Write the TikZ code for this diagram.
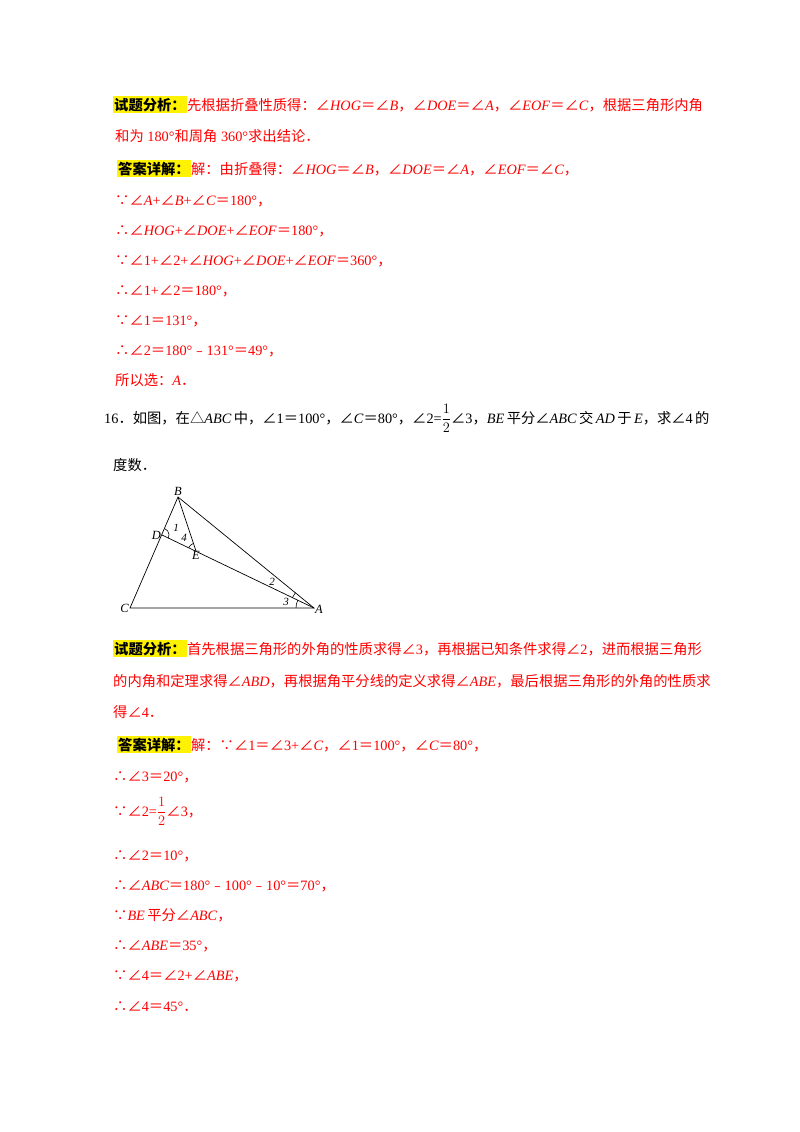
\documentclass[tikz,border=0pt]{standalone}
\usepackage{fontspec}
\setmainfont{Liberation Serif}
\newfontfamily\zhf{Noto Sans CJK SC}
\newcommand\ZH[1]{{\zhf #1}}
\newcommand\I[1]{\textit{#1}}
\newcommand\half{$\displaystyle\frac{1}{2}$}
\usetikzlibrary{angles,quotes}
\definecolor{ansred}{RGB}{255,0,0}
\begin{document}
\begin{tikzpicture}[x=1pt,y=-1pt,
  ln/.style={anchor=base west,inner sep=0pt,font=\fontsize{14.3}{16}\selectfont},
  red/.style={ln,text=ansred},
  hl/.style={ln,fill=yellow,inner xsep=1pt,inner ysep=2pt,font=\fontsize{14.3}{16}\selectfont\bfseries},
  fig/.style={font=\fontsize{12.5}{13}\selectfont\itshape,inner sep=1pt},
  num/.style={font=\fontsize{11}{12}\selectfont\itshape,inner sep=0pt},
  seg/.style={line width=0.7pt}]
\useasboundingbox (0,0) rectangle (800,1132);
\fill[white] (0,0) rectangle (800,1132);
% first problem analysis
\node[hl] (h1) at (113,110) {\ZH{试题分析：}};
\node[red] (l1) at (h1.base east) {\ZH{先根据折叠性质得：∠}\I{HOG}\ZH{＝∠}\I{B}\ZH{，∠}\I{DOE}\ZH{＝∠}\I{A}\ZH{，∠}\I{EOF}\ZH{＝∠}\I{C}\ZH{，根据三角形内角}};
\node[red] (l2) at (115,141) {\ZH{和为} 180°\ZH{和周角} 360°\ZH{求出结论．}};
\node[hl] (h2) at (117,174) {\ZH{答案详解：}};
\node[red] (l3) at (h2.base east) {\ZH{解：由折叠得：∠}\I{HOG}\ZH{＝∠}\I{B}\ZH{，∠}\I{DOE}\ZH{＝∠}\I{A}\ZH{，∠}\I{EOF}\ZH{＝∠}\I{C}\ZH{，}};
\node[red] (l4) at (115,205) {\ZH{∵∠}\I{A}+\ZH{∠}\I{B}+\ZH{∠}\I{C}\ZH{＝}180°\ZH{，}};
\node[red] (l5) at (115,235) {\ZH{∴∠}\I{HOG}+\ZH{∠}\I{DOE}+\ZH{∠}\I{EOF}\ZH{＝}180°\ZH{，}};
\node[red] (l6) at (115,265) {\ZH{∵∠}1+\ZH{∠}2+\ZH{∠}\I{HOG}+\ZH{∠}\I{DOE}+\ZH{∠}\I{EOF}\ZH{＝}360°\ZH{，}};
\node[red] (l7) at (115,295) {\ZH{∴∠}1+\ZH{∠}2\ZH{＝}180°\ZH{，}};
\node[red] (l8) at (115,325) {\ZH{∵∠}1\ZH{＝}131°\ZH{，}};
\node[red] (l9) at (115,355) {\ZH{∴∠}2\ZH{＝}180°\ZH{﹣}131°\ZH{＝}49°\ZH{，}};
\node[red] (l10) at (115,385) {\ZH{所以选：}\I{A}\ZH{．}};
% problem 16
\node[ln] (p1) at (104,423) {16\ZH{．如图，在△}\I{ABC}\,\ZH{中，∠}1\ZH{＝}100°\ZH{，∠}\I{C}\ZH{＝}80°\ZH{，∠}2=\half\ZH{∠}3\ZH{，}\I{BE}\,\ZH{平分∠}\I{ABC}\,\ZH{交}\,\I{AD}\,\ZH{于}\,\I{E}\ZH{，求∠}4\,\ZH{的}};
\node[ln] (p2) at (113,470) {\ZH{度数．}};
% figure
\coordinate (B) at (178,497);
\coordinate (D) at (162,535);
\coordinate (E) at (196,551);
\coordinate (C) at (130,608);
\coordinate (A) at (314,608);
\draw[seg] (C) -- (B) -- (A) -- cycle;
\draw[seg] (D) -- (A);
\draw[seg] (B) -- (E);
\draw[line width=0.6pt] pic[draw,angle radius=7pt] {angle=E--D--B};
\draw[line width=0.6pt] pic[draw,angle radius=8pt] {angle=B--E--D};
\draw[line width=0.6pt] pic[draw,angle radius=24pt] {angle=B--A--D};
\draw[line width=0.6pt] pic[draw,angle radius=18pt] {angle=D--A--C};
\node[fig,anchor=south] (lB) at (B) {\I{B}};
\node[fig,anchor=east] (lD) at (D) {\I{D}};
\node[fig,anchor=north] (lE) at ([yshift=1pt]E) {\I{E}};
\node[fig,anchor=east] (lC) at (C) {\I{C}};
\node[fig,anchor=west] (lA) at ([yshift=-1pt]A) {\I{A}};
\node[num] (n1) at (176,528) {1};
\node[num] (n4) at (184,538) {4};
\node[num] (n2) at (272,582) {2};
\node[num] (n3) at (286,602) {3};
% analysis 16
\node[hl] (h3) at (113,654) {\ZH{试题分析：}};
\node[red] (m1) at (h3.base east) {\ZH{首先根据三角形的外角的性质求得∠}3\ZH{，再根据已知条件求得∠}2\ZH{，进而根据三角形}};
\node[red] (m2) at (113,686) {\ZH{的内角和定理求得∠}\I{ABD}\ZH{，再根据角平分线的定义求得∠}\I{ABE}\ZH{，最后根据三角形的外角的性质求}};
\node[red] (m3) at (113,717) {\ZH{得∠}4\ZH{．}};
\node[hl] (h4) at (117,750) {\ZH{答案详解：}};
\node[red] (m4) at (h4.base east) {\ZH{解：∵∠}1\ZH{＝∠}3+\ZH{∠}\I{C}\ZH{，∠}1\ZH{＝}100°\ZH{，∠}\I{C}\ZH{＝}80°\ZH{，}};
\node[red] (m5) at (113,781) {\ZH{∴∠}3\ZH{＝}20°\ZH{，}};
\node[red] (m6) at (113,816) {\ZH{∵∠}2=\half\ZH{∠}3\ZH{，}};
\node[red] (m7) at (113,860) {\ZH{∴∠}2\ZH{＝}10°\ZH{，}};
\node[red] (m8) at (113,890) {\ZH{∴∠}\I{ABC}\ZH{＝}180°\ZH{﹣}100°\ZH{﹣}10°\ZH{＝}70°\ZH{，}};
\node[red] (m9) at (113,920) {\ZH{∵}\I{BE}\,\ZH{平分∠}\I{ABC}\ZH{，}};
\node[red] (m10) at (113,950) {\ZH{∴∠}\I{ABE}\ZH{＝}35°\ZH{，}};
\node[red] (m11) at (113,980) {\ZH{∵∠}4\ZH{＝∠}2+\ZH{∠}\I{ABE}\ZH{，}};
\node[red] (m12) at (113,1011) {\ZH{∴∠}4\ZH{＝}45°\ZH{．}};
\end{tikzpicture}
\end{document}
